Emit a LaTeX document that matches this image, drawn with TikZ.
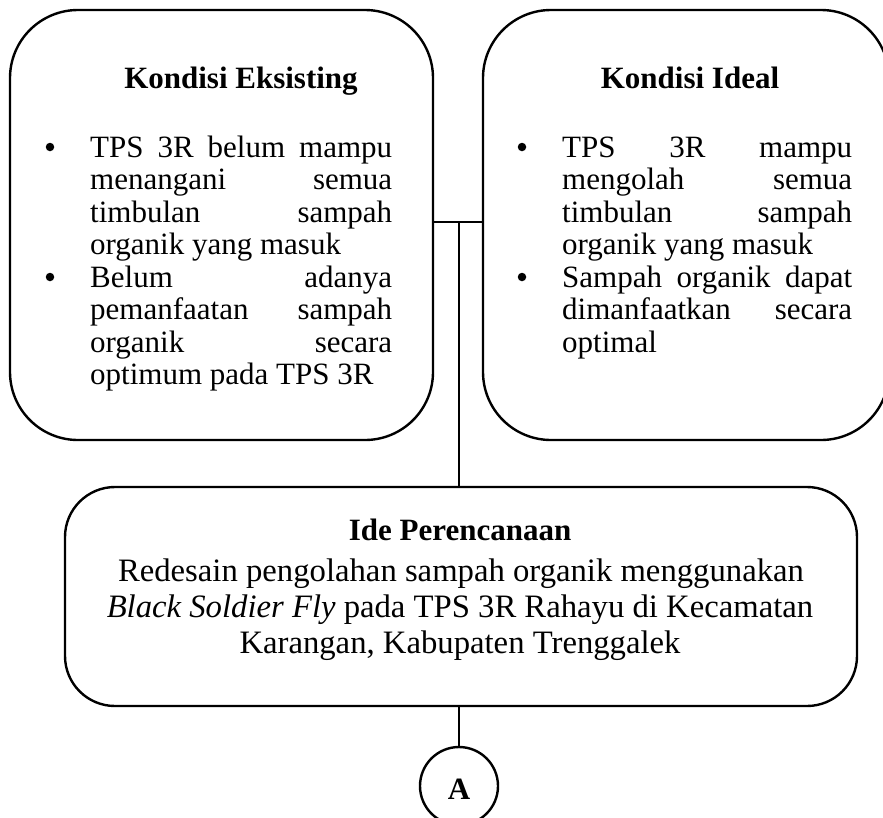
\documentclass[tikz,border=0pt]{standalone}
\usepackage{fontspec}
\setmainfont{Liberation Serif}
\begin{document}
\begin{tikzpicture}[x=1pt,y=-1pt,line join=round]
\tikzset{
  topbox/.style={draw,line width=2.4pt,rounded corners=68pt,inner sep=0pt},
  lowbox/.style={draw,line width=2.4pt,rounded corners=50pt,inner sep=0pt},
  conn/.style={line width=1.4pt},
  txt/.style={font=\fontsize{31}{33.5}\selectfont,inner sep=0pt,anchor=base west},
  ctxt/.style={font=\fontsize{32.7}{36}\selectfont,inner sep=0pt,anchor=base},
  ttl/.style={font=\fontsize{31}{33.5}\selectfont\bfseries,inner sep=0pt,anchor=base},
  bul/.style={circle,fill,inner sep=0pt,minimum size=8.5pt},
  endcircle/.style={circle,draw,line width=2.4pt,minimum size=78pt,inner sep=0pt}
}
\useasboundingbox (0,0) rectangle (883,817);
\clip (0,0) rectangle (883,817);
% boxes
\node[topbox,minimum width=423pt,minimum height=430pt] (kiri) at (221.5,225) {};
\node[topbox,minimum width=406pt,minimum height=430pt] (kanan) at (686,225) {};
\node[lowbox,minimum width=792pt,minimum height=219pt] (bawah) at (461,596.5) {};
\node[endcircle] (A) at (459,786) {};
\node[ttl] (Alabel) at (459,799) {A};
% connectors
\coordinate (j) at (459,222);
\draw[conn] (kiri.east |- j) -- (kanan.west |- j);
\draw[conn] (j) -- (j |- bawah.north);
\draw[conn] (bawah.south -| A) -- (A.north);
% left box text
\node[ttl] (t1) at (241,88) {Kondisi Eksisting};
\node[bul] (b1) at (50,147) {};
\node[bul] (b2) at (50,277) {};
\node[txt] (l1) at (90,157) {\makebox[302pt][s]{TPS 3R belum mampu}};
\node[txt] (l2) at (90,189.5) {\makebox[302pt][s]{menangani semua}};
\node[txt] (l3) at (90,222) {\makebox[302pt][s]{timbulan sampah}};
\node[txt] (l4) at (90,254.5) {organik yang masuk};
\node[txt] (l5) at (90,287) {\makebox[302pt][s]{Belum adanya}};
\node[txt] (l6) at (90,319.5) {\makebox[302pt][s]{pemanfaatan sampah}};
\node[txt] (l7) at (90,352) {\makebox[302pt][s]{organik secara}};
\node[txt] (l8) at (90,384.5) {optimum pada TPS 3R};
% right box text
\node[ttl] (t2) at (690,88) {Kondisi Ideal};
\node[bul] (b3) at (522,147) {};
\node[bul] (b4) at (522,277) {};
\node[txt] (r1) at (562,157) {\makebox[290pt][s]{TPS 3R mampu}};
\node[txt] (r2) at (562,189.5) {\makebox[290pt][s]{mengolah semua}};
\node[txt] (r3) at (562,222) {\makebox[290pt][s]{timbulan sampah}};
\node[txt] (r4) at (562,254.5) {organik yang masuk};
\node[txt] (r5) at (562,287) {\makebox[290pt][s]{Sampah organik dapat}};
\node[txt] (r6) at (562,319.5) {\makebox[290pt][s]{dimanfaatkan secara}};
\node[txt] (r7) at (562,352) {optimal};
% bottom box text
\node[ttl] (t3) at (460,540) {Ide Perencanaan};
\node[ctxt] (m1) at (461,581) {Redesain pengolahan sampah organik menggunakan};
\node[ctxt] (m2) at (460,617) {\textit{Black Soldier Fly} pada TPS 3R Rahayu di Kecamatan};
\node[ctxt] (m3) at (460,653) {Karangan, Kabupaten Trenggalek};
\end{tikzpicture}
\end{document}
